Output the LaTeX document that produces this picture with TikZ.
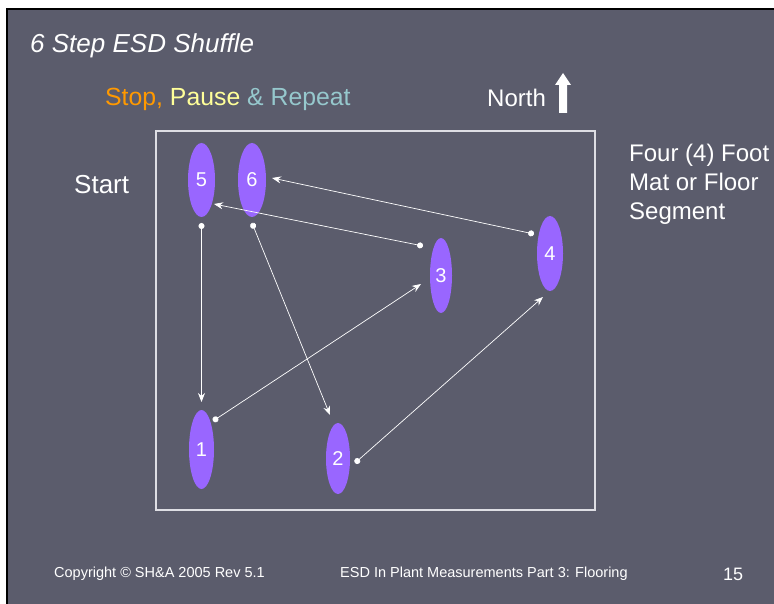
\documentclass[tikz,border=0pt]{standalone}
\usepackage{fontspec}
\setmainfont{Liberation Sans}
\usetikzlibrary{arrows.meta,calc,shapes.geometric}
\definecolor{slide}{RGB}{91,92,108}
\definecolor{feet}{RGB}{153,102,255}
\definecolor{stopc}{RGB}{255,153,0}
\definecolor{pausec}{RGB}{255,255,153}
\definecolor{repc}{RGB}{150,200,205}
\definecolor{matline}{RGB}{222,222,228}

\begin{document}
\begin{tikzpicture}[x=1pt,y=-1pt,>=Stealth,font=\fontsize{24}{29}\selectfont]
\tikzset{foot/.style={ellipse,fill=feet,text=white,inner sep=0pt,minimum width=26pt,minimum height=75pt,font=\fontsize{20}{20}\selectfont},
  lbl/.style={text=white,inner sep=0pt,anchor=base west},
  move/.style={draw=white,line width=0.7pt,{Circle[length=6pt]}-{Stealth[length=9pt,width=7pt,inset=3pt]}},
  small/.style={lbl,font=\fontsize{14.5}{14.5}\selectfont}}
\useasboundingbox (0,0) rectangle (774,604);
\fill[white] (0,0) rectangle (774,604);
\draw[fill=slide,line width=2pt] (7,9) rectangle (778,608);
% headings
\node[lbl,font=\fontsize{26}{26}\itshape] (title) at (30,53) {6 Step ESD Shuffle};
\node[lbl,font=\fontsize{24.8}{24.8}\selectfont] (motto) at (105,106) {\textcolor{stopc}{Stop,} \textcolor{pausec}{Pause} \textcolor{repc}{\& Repeat}};
\node[lbl] (north) at (487,107) {North};
\fill[white] (559,113) -- (559,85) -- (555,85) -- (563,73) -- (571,85) -- (567,85) -- (567,113) -- cycle;
\node[lbl,font=\fontsize{26}{26}\selectfont] (start) at (74,194) {Start};
\node[text=white,inner sep=0pt,anchor=north west,align=left] (mat) at (629,144) {Four (4) Foot\\Mat or Floor\\Segment};
% the mat
\draw[matline,line width=1.3pt] (156,131) rectangle (595,510);
% foot steps
\node[foot,minimum width=27pt,minimum height=74pt] (e5) at (201.5,180) {5};
\node[foot,minimum width=28pt,minimum height=74pt] (e6) at (252,180) {6};
\node[foot,minimum width=22pt] (e3) at (441,275.5) {3};
\node[foot] (e4) at (550,253.5) {4};
\node[foot,minimum width=25pt,minimum height=79pt] (e1) at (201.5,449.5) {1};
\node[foot,minimum width=24pt,minimum height=71pt] (e2) at (338,458.5) {2};
% moves
\draw[move] ($(e5)+(0,43)$) -- ($(e1)+(0,-47.5)$);
\draw[move] ($(e1)+(11.5,-28.5)$) -- ($(e3)+(-20,8.5)$);
\draw[move] ($(e6)+(0,43)$) -- ($(e2)+(-8,-43.5)$);
\draw[move] ($(e2)+(17,4.5)$) -- ($(e4)+(-7,43.5)$);
\draw[move] ($(e3)+(-18,-29.5)$) -- ($(e5)+(12.5,24)$);
\draw[move] ($(e4)+(-16,-19.5)$) -- ($(e6)+(20,-2)$);
% footer
\node[small] (copy) at (54,577) {Copyright \textcopyright{} SH\&A 2005 Rev 5.1};
\node[small] (talk) at (340,577) {ESD In Plant Measurements Part 3: Flooring};
\node[lbl,font=\fontsize{18}{18}\selectfont] (page) at (723,580) {15};
\end{tikzpicture}
\end{document}
